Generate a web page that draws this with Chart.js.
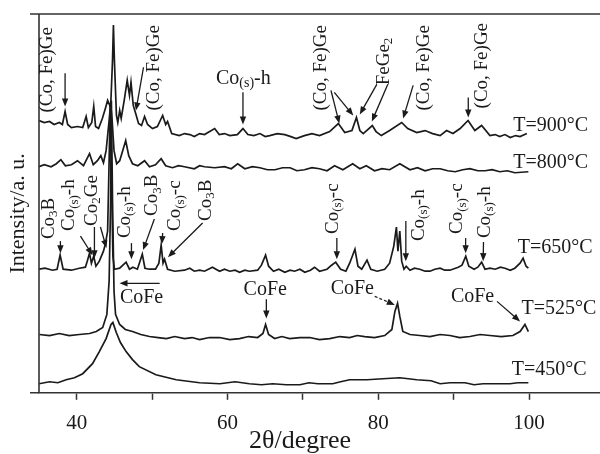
<!DOCTYPE html>
<html>
<head>
<meta charset="utf-8">
<script src="https://cdn.jsdelivr.net/npm/chart.js@4.4.1/dist/chart.umd.min.js"></script>
<style>
  body { margin: 0; background: #fff; }
  canvas { display: block; }
</style>
</head>
<body>
<canvas id="xrd" width="600" height="454"></canvas>
<script>
// 2theta (degree) and intensity (a.u., traces stacked) for each anneal temperature
const t900 = [35.0,35.7,36.4,37.0,37.7,38.1,38.46,38.8,39.3,40.1,40.8,41.25,41.55,42.0,42.26,42.5,42.9,43.4,43.8,44.1,44.5,44.75,44.87,45.0,45.27,45.45,45.7,45.9,46.3,46.7,47.0,47.2,47.5,47.9,48.2,48.6,49.0,49.4,50.05,50.7,51.4,51.8,52.05,52.6,53.6,54.3,55.0,55.6,56.3,56.95,58.3,58.9,59.6,60.3,61.3,62.05,62.7,63.5,64.3,65.0,65.6,66.6,67.6,68.4,69.1,70.2,71.2,72.2,73.55,74.7,75.55,76.5,77.1,77.55,78.0,78.6,79.2,79.7,80.4,81.5,83.1,83.9,85.1,86.2,87.2,88.2,89.05,89.9,90.85,91.9,92.8,93.7,94.8,95.5,96.1,96.8,97.5,98.2,98.8,99.7];
const i900 = [271,269,270,267,269,267,280,267,264,265,264,275,264,269,285,265,263,273,283,291,284,331,366,331,276,269,281,273,291,311,296,309,286,276,268,266,275,267,263,265,276,267,270,258,256,258,257,255,258,257,263,257,258,256,257,263,257,256,258,255,256,258,257,255,253,256,258,256,260,268,259,261,274,261,258,262,266,260,256,261,269,263,259,261,258,256,261,258,263,271,261,266,256,257,255,257,254,256,255,258];

const t800 = [35.0,35.7,36.6,37.3,37.9,38.5,39.3,40.1,40.9,41.7,42.2,42.75,43.2,43.55,43.9,44.3,44.5,44.7,44.95,45.3,45.7,46.1,46.5,46.9,47.4,48.1,49.0,49.65,50.45,51.2,51.8,52.7,53.5,54.3,55.6,56.3,56.95,58.3,59.6,60.5,61.35,62.3,63.3,64.3,65.3,66.3,67.3,68.3,69.2,70.2,71.2,72.2,73.2,74.2,75.3,76.6,77.55,78.4,79.5,80.5,81.5,82.85,84.2,85.2,86.2,87.2,88.2,89.2,90.2,91.2,92.15,93.2,94.15,95.1,96.1,97.1,98.1,99.9];
const i800 = [225,227,225,228,232,226,227,231,226,238,227,231,236,229,241,271,288,271,241,228,231,241,251,236,228,226,231,225,227,233,226,224,226,225,223,226,225,224,225,223,228,223,225,224,222,222,224,224,221,222,224,223,221,226,222,228,223,226,221,223,222,228,222,224,221,223,223,221,220,222,223,221,221,222,220,221,219,220];

const t650 = [35.0,35.8,36.8,37.4,37.8,38.2,39.3,40.35,41.15,41.4,41.7,41.95,42.25,42.55,43.0,43.55,43.8,44.1,44.3,44.45,44.6,44.8,45.0,45.7,46.55,47.0,47.45,48.05,48.7,49.05,49.65,50.45,50.9,51.2,51.45,51.65,52.05,53.0,54.3,55.0,55.6,56.3,56.95,58.0,58.95,59.6,60.3,61.0,61.6,62.3,62.9,64.0,64.5,65.05,65.45,66.1,66.8,67.6,68.3,68.9,69.6,70.25,71.0,71.55,72.2,73.2,73.8,74.35,75.0,75.7,76.2,76.9,77.3,77.8,78.5,79.0,79.85,80.85,81.5,82.05,82.4,82.6,82.85,83.1,83.4,83.7,84.2,84.8,85.5,86.2,86.85,87.5,88.2,88.8,89.5,90.6,91.1,91.6,92.0,92.7,93.2,93.7,94.15,94.8,95.5,96.2,96.8,97.5,98.1,98.8,99.2,99.6,99.9];
const i650 = [123,124,122,123,137,123,122,124,125,131,139,129,136,126,131,141,148,161,231,286,221,136,123,124,130,123,125,123,138,124,123,123,129,147,129,133,123,121,122,124,121,122,121,125,121,123,121,122,120,122,121,122,127,137,126,121,123,120,122,121,123,120,122,125,121,123,127,130,123,121,129,143,126,123,132,123,121,123,129,146,165,141,161,131,123,126,122,124,123,121,121,123,124,122,122,125,127,136,126,123,125,130,123,124,123,125,124,122,124,129,134,126,124];

const t525 = [35.05,36.4,37.7,39.0,40.35,41.7,42.6,43.45,44.0,44.3,44.5,44.6,44.75,44.95,45.15,45.7,46.45,47.4,48.5,49.65,50.8,51.9,53.0,54.3,55.3,56.3,57.6,58.95,60.3,61.6,62.8,64.0,64.7,65.05,65.45,66.25,67.2,68.25,69.6,70.9,72.2,73.55,74.9,76.2,77.2,78.2,79.5,80.85,81.8,82.2,82.55,82.85,83.25,84.2,85.5,86.85,88.2,89.5,90.8,92.15,93.5,94.8,96.3,97.85,98.8,99.45,99.9];
const i525 = [58,57,59,57,58,59,61,65,78,111,191,291,191,101,78,68,63,61,58,56,55,54,56,54,55,53,55,55,53,54,56,55,59,68,58,54,56,54,55,55,53,54,56,55,57,56,55,57,63,81,89,76,61,58,57,56,58,57,55,56,58,57,56,57,61,68,61];

const t450 = [35.0,36.4,37.5,38.6,39.7,40.8,42.1,43.0,43.9,44.55,44.8,45.25,45.8,46.55,47.4,48.3,50.5,53.2,56.3,59.0,61.0,62.9,64.5,66.0,67.8,69.6,70.8,72.0,73.95,75.0,76.2,78.5,80.6,82.85,85.1,87.0,88.2,89.5,91.5,92.7,93.9,96.0,97.45,98.5,99.9];
const i450 = [9,11,10,13,15,19,29,41,54,68,70,60,50,41,33,26,18,13,10,9,11,9,8,9,8,8,10,9,9,11,13,13,14,15,13,12,9,10,10,8,9,9,9,10,10];

const tickValues = [40, 50, 60, 70, 80, 90, 100];
const tickLabels = [40, 60, 80, 100];

// label text pieces: [text, subscript?]
const CoFeGe = [['(Co, Fe)Ge']];
const CoSh = [['Co'], ['(s)', 1], ['-h']];
const CoSc = [['Co'], ['(s)', 1], ['-c']];
const Co3B = [['Co'], ['3', 1], ['B']];
const Co2Ge = [['Co'], ['2', 1], ['Ge']];
const FeGe2 = [['FeGe'], ['2', 1]];

// vertical labels: text, 2theta at centre, intensity at the lower end
const vertLabels = [
  [CoFeGe, 36.0, 279], [CoFeGe, 50.3, 281], [CoFeGe, 72.4, 281], [FeGe2, 80.7, 306],
  [CoFeGe, 86.1, 281], [CoFeGe, 93.7, 283],
  [Co3B, 36.3, 153], [CoSh, 39.0, 161], [Co2Ge, 42.0, 166], [CoSh, 46.4, 154],
  [Co3B, 50.0, 176], [CoSc, 53.1, 161], [Co3B, 57.1, 171], [CoSc, 74.0, 158],
  [CoSh, 85.4, 151], [CoSc, 90.5, 158], [CoSh, 94.1, 154]
];
// horizontal labels: text, 2theta, intensity, align
const horizLabels = [
  [CoSh, 62.1, 313, 'center'],
  [[['CoFe']], 48.6, 95, 'center'], [[['CoFe']], 65.0, 103, 'center'],
  [[['CoFe']], 76.55, 104, 'center'], [[['CoFe']], 92.5, 96, 'center'],
  [[['T=900°C']], 97.9, 266, 'left'], [[['T=800°C']], 97.9, 229, 'left'],
  [[['T=650°C']], 98.5, 144, 'left'], [[['T=525°C']], 99.0, 84, 'left'],
  [[['T=450°C']], 97.7, 23, 'left']
];
// arrows: from (2theta, I) to (2theta, I), dashed?
const arrows = [
  [38.46, 318, 38.46, 285], [48.86, 324, 47.86, 281], [62.05, 299, 62.05, 267],
  [73.72, 301, 74.83, 268], [74.16, 299, 76.68, 276],
  [79.8, 307, 77.54, 277], [81.26, 307, 79.14, 270],
  [84.62, 306, 83.29, 273], [91.93, 294, 91.93, 274],
  [37.84, 151, 37.84, 139], [40.5, 156, 42.1, 137], [42.35, 165, 42.35, 134],
  [43.15, 165, 43.95, 144], [47.26, 149, 47.26, 133], [50.3, 173, 48.8, 142],
  [51.4, 159, 51.3, 148], [56.7, 169, 52.1, 135], [74.5, 154, 74.5, 133],
  [83.65, 171, 83.65, 131], [91.58, 154, 91.58, 139], [93.95, 150, 93.9, 131],
  [51.0, 109, 45.68, 109], [65.15, 93, 65.15, 74], [79.53, 96, 82.19, 87.5, 1],
  [95.74, 91, 98.8, 71]
];

const serif = '"Liberation Serif", "Times New Roman", serif';
const ink = '#1a1a1a';

function pts(xs, ys) {
  return xs.map(function (x, k) { return { x: x, y: ys[k] }; });
}

function setFont(ctx, s, size) {
  ctx.font = (s[1] ? Math.round(size * 0.7) : size) + 'px ' + serif;
}

function richWidth(ctx, segs, size) {
  let w = 0;
  segs.forEach(function (s) {
    setFont(ctx, s, size);
    w += ctx.measureText(s[0]).width;
  });
  return w;
}

function drawRich(ctx, segs, x0, size) {
  let x = x0;
  segs.forEach(function (s) {
    setFont(ctx, s, size);
    ctx.fillText(s[0], x, s[1] ? 5 : 0);
    x += ctx.measureText(s[0]).width;
  });
}

function arrow(ctx, x1, y1, x2, y2, dashed) {
  const a = Math.atan2(y2 - y1, x2 - x1);
  const L = 8, W = 3.2;
  ctx.save();
  ctx.strokeStyle = ink;
  ctx.fillStyle = ink;
  ctx.lineWidth = 1.3;
  if (dashed) ctx.setLineDash([3, 2]);
  ctx.beginPath();
  ctx.moveTo(x1, y1);
  ctx.lineTo(x2 - Math.cos(a) * L * 0.8, y2 - Math.sin(a) * L * 0.8);
  ctx.stroke();
  ctx.setLineDash([]);
  ctx.beginPath();
  ctx.moveTo(x2, y2);
  ctx.lineTo(x2 - Math.cos(a) * L - Math.sin(a) * W, y2 - Math.sin(a) * L + Math.cos(a) * W);
  ctx.lineTo(x2 - Math.cos(a) * L + Math.sin(a) * W, y2 - Math.sin(a) * L - Math.cos(a) * W);
  ctx.closePath();
  ctx.fill();
  ctx.restore();
}

const decor = {
  id: 'decor',
  afterDraw(chart) {
    const ctx = chart.ctx;
    const a = chart.chartArea;
    const xs = chart.scales.x, ys = chart.scales.y;

    // frame: top line and left axis, both horizontals run a little past the y axis
    ctx.save();
    ctx.strokeStyle = '#333';
    ctx.lineWidth = 1.6;
    ctx.beginPath();
    ctx.moveTo(a.left - 9, a.top); ctx.lineTo(a.right, a.top);
    ctx.moveTo(a.left - 9, a.bottom); ctx.lineTo(a.left, a.bottom);
    ctx.moveTo(a.left, a.top); ctx.lineTo(a.left, a.bottom);
    ctx.stroke();
    ctx.restore();

    ctx.save();
    ctx.fillStyle = ink;
    ctx.textBaseline = 'middle';
    ctx.textAlign = 'left';

    vertLabels.forEach(function (l) {
      ctx.save();
      ctx.translate(xs.getPixelForValue(l[1]), ys.getPixelForValue(l[2]));
      ctx.rotate(-Math.PI / 2);
      drawRich(ctx, l[0], 0, 19);
      ctx.restore();
    });

    horizLabels.forEach(function (l) {
      const w = richWidth(ctx, l[0], 20);
      ctx.save();
      ctx.translate(xs.getPixelForValue(l[1]), ys.getPixelForValue(l[2]));
      drawRich(ctx, l[0], l[3] === 'center' ? -w / 2 : 0, 20);
      ctx.restore();
    });
    ctx.restore();

    arrows.forEach(function (r) {
      arrow(ctx, xs.getPixelForValue(r[0]), ys.getPixelForValue(r[1]),
        xs.getPixelForValue(r[2]), ys.getPixelForValue(r[3]), r[4]);
    });

    // axis titles
    ctx.save();
    ctx.fillStyle = ink;
    ctx.textAlign = 'center';
    ctx.textBaseline = 'middle';
    ctx.font = '26px ' + serif;
    ctx.fillText('2θ/degree', chart.width / 2, chart.height - 13);
    ctx.font = '22px ' + serif;
    ctx.translate(a.left - 21, (a.top + a.bottom) / 2 + 10);
    ctx.rotate(-Math.PI / 2);
    ctx.fillText('Intensity/a. u.', 0, 0);
    ctx.restore();
  }
};

function trace(xs, ys) {
  return {
    data: pts(xs, ys),
    borderColor: ink,
    borderWidth: 1.7,
    pointRadius: 0,
    tension: 0,
    fill: false
  };
}

new Chart(document.getElementById('xrd'), {
  type: 'line',
  data: {
    datasets: [
      trace(t450, i450), trace(t525, i525), trace(t650, i650),
      trace(t800, i800), trace(t900, i900)
    ]
  },
  options: {
    responsive: false,
    animation: false,
    layout: { padding: { left: 39, right: 0, top: 14, bottom: 7 } },
    plugins: { legend: { display: false }, tooltip: { enabled: false } },
    scales: {
      x: {
        type: 'linear',
        min: 35,
        max: 109.4,
        afterBuildTicks: function (s) {
          s.ticks = tickValues.map(function (v) { return { value: v }; });
        },
        ticks: {
          autoSkip: false,
          maxRotation: 0,
          padding: 11,
          color: ink,
          font: { family: serif, size: 21 },
          callback: function (v) { return tickLabels.includes(v) ? String(v) : ''; }
        },
        grid: { drawOnChartArea: false, drawTicks: true, tickLength: 7, color: '#333', tickWidth: 1.5 },
        border: { display: true, color: '#333', width: 1.6 }
      },
      y: { display: false, min: 0, max: 377 }
    }
  },
  plugins: [decor]
});
</script>
</body>
</html>
